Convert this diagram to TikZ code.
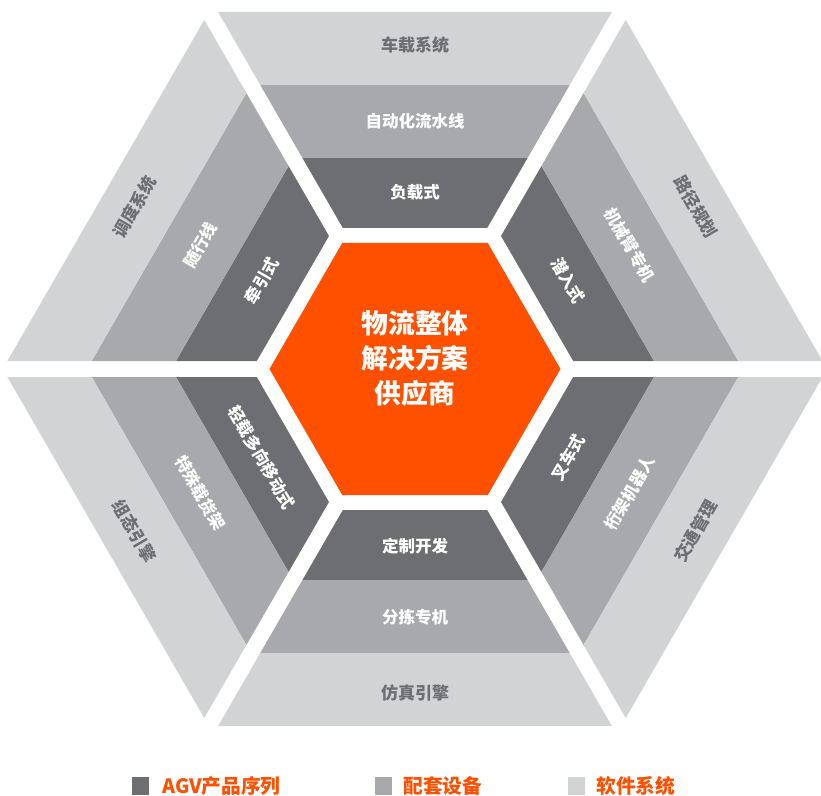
\documentclass[tikz,border=0pt]{standalone}
\usepackage{fontspec}
\newfontfamily\cjk{Noto Sans CJK SC}
\usepackage{xcolor}
\usetikzlibrary{positioning}
\definecolor{agvdark}{HTML}{6D6E71}
\definecolor{agvmid}{HTML}{A7A9AC}
\definecolor{agvlight}{HTML}{D1D3D4}
\definecolor{agvorange}{HTML}{FF5000}
% one band of a sector, between two distances from the centre
\newcommand{\ringband}[3]{%
  \fill[#1] ({-(#2-16)/sqrt(3)},#2) -- ({(#2-16)/sqrt(3)},#2)
    -- ({(#3-16)/sqrt(3)},#3) -- ({-(#3-16)/sqrt(3)},#3) -- cycle;}
\tikzset{
  ringtext/.style={font=\cjk\bfseries\fontsize{16.5}{19}\selectfont, inner sep=0pt},
  keybox/.style={fill=#1, minimum width=17pt, minimum height=18pt, inner sep=0pt},
  keytext/.style={font=\cjk\bfseries\fontsize{19.7}{24}\selectfont, text=agvorange, inner sep=0pt}
}

\begin{document}
\begin{tikzpicture}[x=1pt,y=1pt]
            \useasboundingbox (-415,-426) rectangle (406,369);
            \fill[agvorange] (0:145.5) \foreach \a in {60,120,...,300} {-- (\a:145.5)} -- cycle;
            \node[font=\cjk\bfseries\fontsize{26.8}{35}\selectfont, text=white, align=center] (core) at (0,11) {物流整体\\解决方案\\供应商};
            \foreach \ang/\rot/\outr/\midr/\innr [count=\i] in {90/0/车载系统/自动化流水线/负载式,
                30/-60/路径规划/机械臂专机/潜入式, -30/60/交通管理/桁架机器人/叉车式,
                -90/0/仿真引擎/分拣专机/定制开发, -150/-60/组态引擎/特殊载货架/轻载多向移动式,
                150/60/调度系统/随行线/牵引式} {
                \begin{scope}[rotate=\ang-90]
                    \ringband{agvdark}{141}{211}
                    \ringband{agvmid}{211}{284}
                    \ringband{agvlight}{284}{357}
                \end{scope}
                \node[ringtext, text=white, rotate=\rot] (inner\i) at (\ang:177) {\innr};
                \node[ringtext, text=white, rotate=\rot] (mid\i) at (\ang:248) {\midr};
                \node[ringtext, text=agvdark, font=\cjk\bfseries\fontsize{17}{19}\selectfont, rotate=\rot] (outer\i) at (\ang:324) {\outr};
            }
            % legend
            \node[keybox=agvdark] (key1) at (-274.5,-417) {};
            \node[keytext, right=13pt of key1] (key1text) {AGV产品序列};
            \node[keybox=agvmid] (key2) at (-31.5,-417) {};
            \node[keytext, right=11pt of key2] (key2text) {配套设备};
            \node[keybox=agvlight] (key3) at (161.5,-417) {};
            \node[keytext, right=11pt of key3] (key3text) {软件系统};
        \end{tikzpicture}
\end{document}
